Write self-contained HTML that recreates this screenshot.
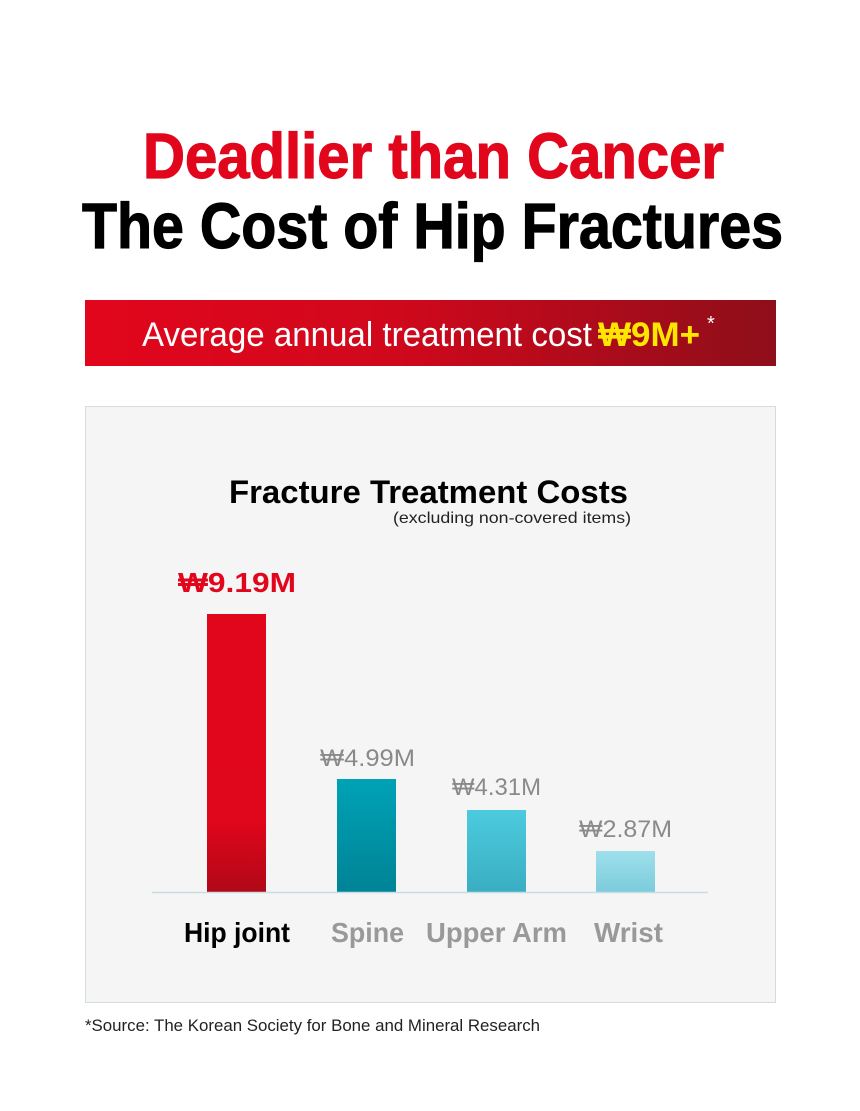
<!DOCTYPE html>
<html><head><meta charset="utf-8"><style>html,body{margin:0;padding:0;background:#fff}svg{display:block}</style></head>
<body>
<svg width="860" height="1111" viewBox="0 0 860 1111" xmlns="http://www.w3.org/2000/svg" font-family="Liberation Sans, sans-serif">
<defs>
<linearGradient id="ban" x1="0" x2="1"><stop offset="0" stop-color="#e2061c"/><stop offset="0.45" stop-color="#d0081c"/><stop offset="1" stop-color="#8e0e1a"/></linearGradient>
<linearGradient id="b1" x1="0" y1="0" x2="0" y2="1"><stop offset="0" stop-color="#e2061c"/><stop offset="0.75" stop-color="#e0061b"/><stop offset="1" stop-color="#b00818"/></linearGradient>
<linearGradient id="b2" x1="0" y1="0" x2="0" y2="1"><stop offset="0" stop-color="#00a2b6"/><stop offset="1" stop-color="#008396"/></linearGradient>
<linearGradient id="b3" x1="0" y1="0" x2="0" y2="1"><stop offset="0" stop-color="#4ccbde"/><stop offset="1" stop-color="#3aaec2"/></linearGradient>
<linearGradient id="b4" x1="0" y1="0" x2="0" y2="1"><stop offset="0" stop-color="#9ee0ec"/><stop offset="1" stop-color="#7ccbdb"/></linearGradient>
</defs>
<text x="143" y="178" font-size="64" font-weight="bold" fill="#e2061c" stroke="#e2061c" stroke-width="1.2" textLength="581" lengthAdjust="spacingAndGlyphs">Deadlier than Cancer</text>
<text x="82" y="248" font-size="64" font-weight="bold" fill="#000" stroke="#000" stroke-width="1.2" textLength="701" lengthAdjust="spacingAndGlyphs">The Cost of Hip Fractures</text>
<rect x="85" y="300" width="691" height="66" fill="url(#ban)"/>
<text x="142" y="346" font-size="34" fill="#fff" textLength="450" lengthAdjust="spacingAndGlyphs">Average annual treatment cost</text>
<text x="598" y="346" font-size="34" font-weight="bold" fill="#ffe600" textLength="102" lengthAdjust="spacingAndGlyphs">₩9M+</text>
<text x="707" y="330" font-size="20" fill="#fff">*</text>
<rect x="85.5" y="406.5" width="690" height="596" fill="#f5f5f5" stroke="#d3dde0"/>
<text x="229" y="503" font-size="32" font-weight="bold" fill="#000" textLength="399" lengthAdjust="spacingAndGlyphs">Fracture Treatment Costs</text>
<text x="393" y="523" font-size="16" fill="#222" textLength="238" lengthAdjust="spacingAndGlyphs">(excluding non-covered items)</text>
<rect x="207" y="614" width="59" height="278" fill="url(#b1)"/>
<rect x="337" y="779" width="59" height="113" fill="url(#b2)"/>
<rect x="467" y="810" width="59" height="82" fill="url(#b3)"/>
<rect x="596" y="851" width="59" height="41" fill="url(#b4)"/>
<line x1="152" y1="892.5" x2="708" y2="892.5" stroke="#c8dde2" stroke-width="1.5"/>
<text x="178" y="592" font-size="28" font-weight="bold" fill="#e2061c" textLength="118" lengthAdjust="spacingAndGlyphs">₩9.19M</text>
<g font-size="24" fill="#8a8a8a">
<text x="320" y="766" textLength="95" lengthAdjust="spacingAndGlyphs">₩4.99M</text>
<text x="452" y="795" textLength="89" lengthAdjust="spacingAndGlyphs">₩4.31M</text>
<text x="579" y="837" textLength="93" lengthAdjust="spacingAndGlyphs">₩2.87M</text>
</g>
<text x="184" y="942" font-size="28" font-weight="bold" fill="#000" textLength="106" lengthAdjust="spacingAndGlyphs">Hip joint</text>
<g font-size="28" font-weight="bold" fill="#999">
<text x="331" y="942" textLength="73" lengthAdjust="spacingAndGlyphs">Spine</text>
<text x="426" y="942" textLength="141" lengthAdjust="spacingAndGlyphs">Upper Arm</text>
<text x="594" y="942" textLength="69" lengthAdjust="spacingAndGlyphs">Wrist</text>
</g>
<text x="85" y="1031" font-size="17" fill="#222" textLength="455" lengthAdjust="spacingAndGlyphs">*Source:  The Korean Society for Bone and Mineral Research</text>
</svg>
</body></html>
